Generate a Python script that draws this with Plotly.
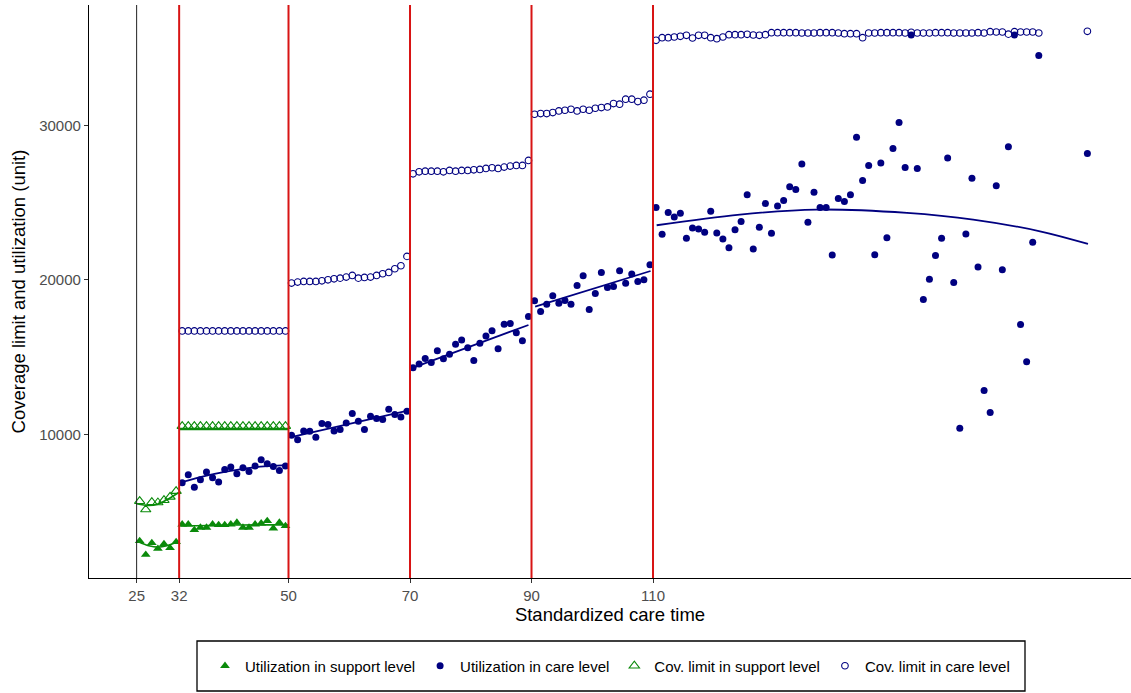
import plotly.graph_objects as go

# ---------------- data ----------------
# x positions: integer bins of standardized care time, plotted at bin mid
def mids(a, b):
    return [t + 0.5 for t in range(a, b)]

x_25_32 = mids(25, 32)
x_32_50 = mids(32, 50)
x_50_70 = mids(50, 70)
x_70_90 = mids(70, 90)
x_90_110 = mids(90, 110)
x_110_end = mids(110, 174) + [181.5]

# Utilization in support level
sup_util_a = [3097, 2208, 2968, 2597, 2903, 2643, 3032]
sup_util_b = [4177, 4177, 3810, 3961, 3961, 4177, 4134, 4134, 4177,
              4286, 3961, 3961, 4177, 4242, 4394, 3918, 4286, 4069]

# Coverage limit in support level
sup_lim_a = [5670, 5130, 5606, 5584, 5736, 5952, 6320]
sup_lim_b = [10531, 10531, 10531, 10531, 10531, 10531, 10531, 10531, 10531,
             10531, 10531, 10531, 10531, 10531, 10531, 10531, 10531, 10531]

# Utilization in care level
care_util_a = [6861, 7381, 6580, 7056, 7554, 7186, 6905, 7727, 7879,
               7446, 7835, 7597, 7944, 8355, 8095, 7922, 7662, 7950]
care_util_b = [9935, 9654, 10216, 10195, 9805, 10693, 10628, 10216, 10303, 10736,
               11342, 10844, 10303, 11169, 11017, 10952, 11623, 11277, 11126, 11494]
care_util_c = [14307, 14545, 14913, 14654, 15411, 14892, 15173, 15822, 16104, 15606,
               14784, 15887, 16364, 16710, 15541, 17121, 17165, 16580, 16061, 17619]
care_util_d = [18636, 17944, 18420, 18961, 18485, 18658, 18420, 19632, 20260, 18074,
               19113, 20476, 19502, 19567, 20584, 19784, 20368, 19892, 20000, 20974]
care_util_e = [24675, 22944, 24351, 24069, 24307, 22684, 23355, 23290, 23074, 24437,
               23030, 22641, 22078, 23247, 23766, 25498, 21991, 23398, 24935, 23009,
               24784, 25130, 26017, 25844, 27489, 23723, 25671, 24675, 24675, 21602,
               25260, 25065, 25498, 29221, 26429, 27403, 21623, 27554, 22727, 28506,
               30173, 27273, 35844, 27208, 18723, 20043, 21580, 22684, 27879, 19827,
               10390, 22965, 26580, 20823, 12835, 11407, 26082, 20649, 28615, 35844,
               17100, 14697, 22424, 34524, 28182]

# Coverage limit in care level
care_lim_a = [16692, 16692, 16692, 16692, 16692, 16692, 16692, 16692, 16692,
              16692, 16692, 16692, 16692, 16692, 16692, 16692, 16692, 16692]
care_lim_b = [19785, 19850, 19892, 19892, 19892, 19935, 20000, 20065, 20108, 20173,
              20281, 20108, 20152, 20173, 20281, 20390, 20476, 20714, 20909, 21515]
care_lim_c = [26860, 26990, 27030, 27030, 27030, 26990, 27078, 27030, 27078, 27078,
              27121, 27143, 27208, 27251, 27208, 27294, 27359, 27403, 27403, 27727]
care_lim_d = [30714, 30758, 30758, 30823, 30931, 30974, 31039, 30931, 31039, 30974,
              31104, 31147, 31190, 31407, 31364, 31688, 31688, 31537, 31623, 32013]
care_lim_e = [35500, 35672, 35672, 35715, 35758, 35823, 35650, 35823, 35823, 35672,
              35607, 35715, 35866, 35866, 35866, 35888, 35844, 35823, 35866, 35996,
              35996, 35996, 35996, 35996, 35974, 35974, 35974, 35996, 35996, 35996,
              35974, 35930, 35930, 35930, 35672, 35974, 35974, 35996, 35996, 35996,
              35996, 35974, 36017, 35974, 35974, 35974, 35996, 35996, 35996, 35974,
              35974, 35974, 35974, 35996, 35974, 36060, 36039, 36039, 35900, 36060,
              36039, 36039, 36039, 35974, 36082]

# Fitted (smoothed) lines
fit_sup_util_a_x = [25.3, 27.0, 28.5, 30.0, 31.8]
fit_sup_util_a_y = [3050, 2790, 2700, 2790, 3060]
fit_sup_util_b_x = [32.2, 37.0, 41.0, 45.0, 49.9]
fit_sup_util_b_y = [4060, 4100, 4125, 4140, 4140]
fit_sup_lim_a_x = [25.0, 27.0, 28.5, 30.0, 32.0]
fit_sup_lim_a_y = [5500, 5391, 5480, 5767, 6250]
fit_sup_lim_b_x = [32.0, 50.0]
fit_sup_lim_b_y = [10320, 10320]
fit_care_a_x = [32.2, 36.0, 40.0, 44.0, 49.9]
fit_care_a_y = [6880, 7280, 7600, 7850, 8000]
fit_care_b_x = [50.6, 70.0]
fit_care_b_y = [9840, 11570]
fit_care_c_x = [70.2, 89.5]
fit_care_c_y = [14270, 17075]
fit_care_d_x = [90.6, 109.6]
fit_care_d_y = [18260, 20570]
fit_care_e_x = [110.6, 124.3, 136.9, 151.8, 162.7, 173.7, 181.6]
fit_care_e_y = [23530, 24220, 24545, 24330, 23900, 23140, 22320]

# Reference lines
start_line = 25
cut_lines = [32, 50, 70, 90, 110]
x_ticks = [25, 32, 50, 70, 90, 110]
y_ticks = [10000, 20000, 30000]

# ---------------- styles ----------------
W, H = 1131, 693
ML, MR, MT, MB = 89, 0, 5, 115
GREEN = "#0A8A0A"
NAVY = "#000080"
RED = "#D81414"
FONT = "Liberation Sans, Arial, Helvetica, sans-serif"


def paper_x(px):
    return (px - ML) / (W - ML - MR)


def paper_y(py):
    return (H - MB - py) / (H - MT - MB)


fig = go.Figure()

# fitted lines (under the points)
green_fits = [(fit_sup_util_a_x, fit_sup_util_a_y), (fit_sup_util_b_x, fit_sup_util_b_y),
              (fit_sup_lim_a_x, fit_sup_lim_a_y), (fit_sup_lim_b_x, fit_sup_lim_b_y)]
navy_fits = [(fit_care_a_x, fit_care_a_y), (fit_care_b_x, fit_care_b_y),
             (fit_care_c_x, fit_care_c_y), (fit_care_d_x, fit_care_d_y),
             (fit_care_e_x, fit_care_e_y)]
for fx, fy in green_fits:
    fig.add_trace(go.Scatter(x=fx, y=fy, mode="lines", showlegend=False, hoverinfo="skip",
                             line=dict(color=GREEN, width=1.6, shape="spline")))
for fx, fy in navy_fits:
    fig.add_trace(go.Scatter(x=fx, y=fy, mode="lines", showlegend=False, hoverinfo="skip",
                             line=dict(color=NAVY, width=1.8, shape="spline")))

# points
fig.add_trace(go.Scatter(
    x=x_25_32 + x_32_50, y=sup_util_a + sup_util_b, mode="markers",
    name="Utilization in support level",
    marker=dict(symbol="triangle-up", size=8.5, color=GREEN, line=dict(width=0))))
fig.add_trace(go.Scatter(
    x=x_32_50 + x_50_70 + x_70_90 + x_90_110 + x_110_end,
    y=care_util_a + care_util_b + care_util_c + care_util_d + care_util_e,
    mode="markers", name="Utilization in care level",
    marker=dict(symbol="circle", size=7, color=NAVY, line=dict(width=0))))
fig.add_trace(go.Scatter(
    x=x_25_32 + x_32_50, y=sup_lim_a + sup_lim_b, mode="markers",
    name="Cov. limit in support level",
    marker=dict(symbol="triangle-up-open", size=9, color=GREEN, line=dict(width=1.1, color=GREEN))))
fig.add_trace(go.Scatter(
    x=x_32_50 + x_50_70 + x_70_90 + x_90_110 + x_110_end,
    y=care_lim_a + care_lim_b + care_lim_c + care_lim_d + care_lim_e,
    mode="markers", name="Cov. limit in care level",
    marker=dict(symbol="circle-open", size=6.6, color=NAVY, line=dict(width=1.1, color=NAVY))))

shapes = [dict(type="line", xref="x", yref="paper", x0=start_line, x1=start_line, y0=0, y1=1,
               line=dict(color="#222222", width=1), layer="above")]
for c in cut_lines:
    shapes.append(dict(type="line", xref="x", yref="paper", x0=c, x1=c, y0=0, y1=1,
                       line=dict(color=RED, width=2), layer="above"))
# legend frame
shapes.append(dict(type="rect", xref="paper", yref="paper",
                   x0=paper_x(197), x1=paper_x(1025), y0=paper_y(691), y1=paper_y(641),
                   line=dict(color="black", width=1.3), fillcolor="rgba(0,0,0,0)", layer="above"))

fig.update_layout(
    width=W, height=H,
    margin=dict(l=ML, r=MR, t=MT, b=MB, pad=0),
    plot_bgcolor="white", paper_bgcolor="white",
    font=dict(family=FONT, color="black"),
    shapes=shapes,
    showlegend=True,
    legend=dict(orientation="h", x=0.5, xanchor="center", y=paper_y(666), yanchor="middle",
                font=dict(size=15, family=FONT, color="black"),
                bgcolor="rgba(0,0,0,0)", borderwidth=0, itemclick=False),
    xaxis=dict(range=[17.16, 188.68], tickmode="array", tickvals=x_ticks,
               showline=True, linecolor="black", linewidth=1.2, mirror=False,
               ticks="outside", ticklen=4, tickwidth=1, tickcolor="#333333",
               showgrid=False, zeroline=False,
               tickfont=dict(size=15, color="#4d4d4d", family=FONT),
               title=dict(text="Standardized care time", font=dict(size=18.5, color="black"),
                          standoff=4)),
    yaxis=dict(range=[699, 37786], tickmode="array", tickvals=y_ticks, tickformat="d",
               showline=True, linecolor="black", linewidth=1.2, mirror=False,
               ticks="outside", ticklen=4, tickwidth=1, tickcolor="#333333",
               showgrid=False, zeroline=False,
               tickfont=dict(size=15, color="#4d4d4d", family=FONT),
               title=dict(text="Coverage limit and utilization (unit)",
                          font=dict(size=18.5, color="black"), standoff=8)),
)

fig.write_html("out.html")
